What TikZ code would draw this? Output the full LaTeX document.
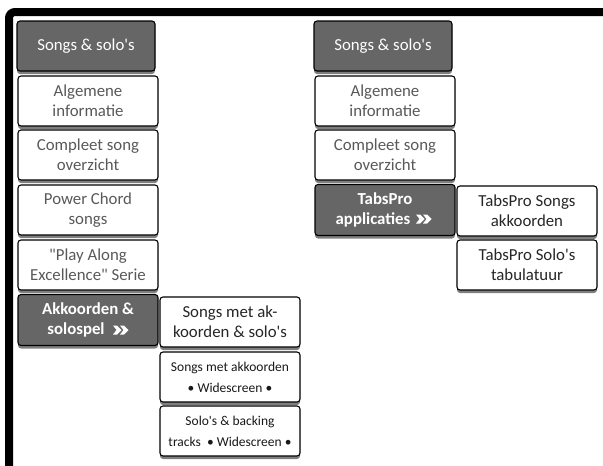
\documentclass[tikz,border=0pt]{standalone}
\usepackage{fontspec}
\newfontfamily\calfont{Carlito}
\usetikzlibrary{shadows,calc}
\definecolor{darkbox}{HTML}{666666}
\definecolor{graytext}{HTML}{595959}
\definecolor{shadowc}{HTML}{7F7F7F}
\begin{document}
\begin{tikzpicture}[x=1pt,y=-1pt,
  basebox/.style={draw=black, line width=1.1pt, rounded corners=3pt, inner sep=0pt,
    align=center, anchor=center,
    drop shadow={shadow xshift=0pt, shadow yshift=-3pt, fill=shadowc, opacity=1}},
  menubox/.style={basebox, fill=white, text=graytext, minimum width=140pt, minimum height=50pt,
    font=\calfont\fontsize{16.8}{20}\selectfont},
  subbox/.style={basebox, fill=white, text=black!85, minimum width=140pt, minimum height=50pt,
    font=\calfont\fontsize{16.8}{20}\selectfont},
  smallbox/.style={basebox, fill=white, text=black!90, minimum width=140pt, minimum height=50pt,
    font=\calfont\fontsize{13.5}{21}\selectfont},
  headbox/.style={basebox, fill=darkbox, text=white, minimum width=138pt, minimum height=50pt,
    font=\calfont\fontsize{16.8}{20}\selectfont},
  activebox/.style={basebox, fill=darkbox, text=white, minimum width=140pt, minimum height=51pt,
    font=\calfont\fontsize{16.8}{20}\selectfont\bfseries},
  chev/.style={fill=white, draw=none}
]
\useasboundingbox (0,0) rectangle (603,466);
% frame
\draw[line width=8pt, rounded corners=6pt] (9,466) -- (9,12) -- (603,12);

% left column
\node[headbox] (h1) at (86,46) {Songs \& solo's};
\node[menubox] (a1) at (88,101) {Algemene\\informatie};
\node[menubox] (c1) at (88,155) {Compleet song\\overzicht};
\node[menubox] (p1) at (88,210) {Power Chord\\songs};
\node[menubox] (pa1) at (88,265) {"Play Along\\Excellence" Serie};
\node[activebox] (ak1) at (88,320) {Akkoorden \&\\solospel\hspace*{24pt}};
\node[subbox] (s1) at (230,322) {Songs met ak-\\koorden \& solo's};
\node[smallbox] (s2) at (230,377) {Songs met akkoorden\\\textbullet{} Widescreen \textbullet{}};
\node[smallbox] (s3) at (230,431) {Solo's \& backing\\tracks \ \textbullet{} Widescreen \textbullet{}};

% right column
\node[headbox] (h2) at (383,46) {Songs \& solo's};
\node[menubox] (a2) at (385,101) {Algemene\\informatie};
\node[menubox] (c2) at (385,155) {Compleet song\\overzicht};
\node[activebox] (t2) at (385,210) {TabsPro\\applicaties\hspace*{24pt}};
\node[subbox] (ts1) at (527,211) {TabsPro Songs\\akkoorden};
\node[subbox] (ts2) at (527,265) {TabsPro Solo's\\tabulatuur};

% chevrons
\foreach \n/\dx/\dy in {ak1/34/10, t2/40/9}{
  \begin{scope}[shift={($(\n.center)+(\dx,\dy)$)}]
    \fill[chev] (-9,-4.5) -- (-5,-4.5) -- (-0.5,0) -- (-5,4.5) -- (-9,4.5) -- (-5.5,0) -- cycle;
    \fill[chev] (-2,-4.5) -- (2,-4.5) -- (6.5,0) -- (2,4.5) -- (-2,4.5) -- (1.5,0) -- cycle;
  \end{scope}
}
\end{tikzpicture}
\end{document}
